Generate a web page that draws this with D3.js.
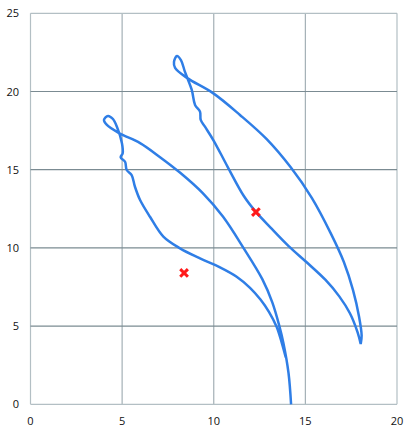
<!DOCTYPE html>
<html><head><meta charset="utf-8">
<script src="https://cdn.jsdelivr.net/npm/d3@7"></script>
<style>body{margin:0;background:#fff}svg{display:block}text{font-family:"Open Sans","DejaVu Sans",sans-serif;font-size:11px;fill:#111}</style>
</head><body>
<script>
const xTicks = [0, 5, 10, 15, 20];
const yTicks = [0, 5, 10, 15, 20, 25];
// Curve A (lower): from bottom, outer branch up, loop, wiggly inner branch back down
const curveAx = [14.22,14.08,13.80,13.58,13.20,12.65,11.62,10.50,9.40,8.17,7.07,5.98,4.85,4.17,4.01,4.23,4.50,4.72,4.99,5.03,4.92,5.16,5.25,5.52,5.70,5.98,6.52,7.25,8.16,9.25,10.34,11.25,11.98,12.55,13.02,13.43,13.72,13.93];
const curveAy = [0.00,2.00,3.92,5.00,6.50,8.00,10.00,12.00,13.50,14.80,15.80,16.70,17.33,17.86,18.18,18.44,18.24,17.73,16.69,16.05,15.79,15.51,14.98,14.66,13.91,13.06,11.99,10.72,9.97,9.33,8.76,8.16,7.45,6.70,5.90,4.96,3.90,3.00];
// Curve B (upper): from tip, outer branch up, loop, wiggly inner branch back to tip
const curveBx = [18.02,18.07,17.93,17.60,17.10,16.40,15.35,14.20,12.89,11.43,9.98,8.54,7.89,7.83,7.99,8.21,8.43,8.80,8.98,9.25,9.29,9.52,10.00,10.75,11.65,12.30,13.10,14.10,15.10,16.10,16.85,17.43,17.85,18.02];
const curveBy = [3.86,4.40,5.60,7.30,9.10,10.90,13.20,15.15,16.95,18.50,19.88,20.87,21.51,21.89,22.27,22.01,21.25,20.10,19.14,18.71,18.18,17.75,16.85,15.20,13.30,12.30,11.30,10.10,9.05,7.95,6.90,5.82,4.60,3.86];
const markX = [12.30, 8.38];
const markY = [12.29, 8.40];

const W = 416, H = 434;
const svg = d3.select("body").append("svg").attr("width", W).attr("height", H);
const x = d3.scaleLinear().domain([0, 20]).range([30.5, 397]);
const y = d3.scaleLinear().domain([0, 25]).range([404.3, 13.3]);

const g = svg.append("g");
// vertical grid
g.selectAll(".vg").data(xTicks).join("line")
  .attr("x1", d => x(d)).attr("x2", d => x(d)).attr("y1", y(0)).attr("y2", y(25))
  .attr("stroke", d => (d === 0 || d === 20) ? "#b3bfc4" : "#a4b0b6").attr("stroke-width", 1.2);
// horizontal grid
g.selectAll(".hg").data(yTicks).join("line")
  .attr("y1", d => y(d)).attr("y2", d => y(d)).attr("x1", x(0)).attr("x2", x(20))
  .attr("stroke", d => (d === 0 || d === 25) ? "#b3bfc4" : "#7b8b92").attr("stroke-width", 1.2);

// tick labels
svg.selectAll(".yl").data(yTicks).join("text")
  .attr("x", 19).attr("y", d => y(d) + 4).attr("text-anchor", "end").text(d => d);
svg.selectAll(".xl").data(xTicks).join("text")
  .attr("x", d => x(d)).attr("y", 425).attr("text-anchor", "middle").text(d => d);

const line = d3.line().x(d => x(d[0])).y(d => y(d[1])).curve(d3.curveCatmullRom.alpha(0.5));
const A = curveAx.map((v, i) => [v, curveAy[i]]);
const B = curveBx.map((v, i) => [v, curveBy[i]]);
[A, B].forEach(pts => {
  svg.append("path").attr("d", line(pts)).attr("fill", "none")
    .attr("stroke", "#2f7ee6").attr("stroke-width", 2.5).attr("stroke-linejoin", "round");
});

// markers
const sym = d3.symbol().type(d3.symbolX).size(40);
svg.selectAll(".mk").data(markX).join("path")
  .attr("transform", (d, i) => `translate(${x(d)},${y(markY[i])})`)
  .attr("d", sym).attr("stroke", "#ff1a1a").attr("stroke-width", 3).attr("fill", "none");
</script>
</body></html>
